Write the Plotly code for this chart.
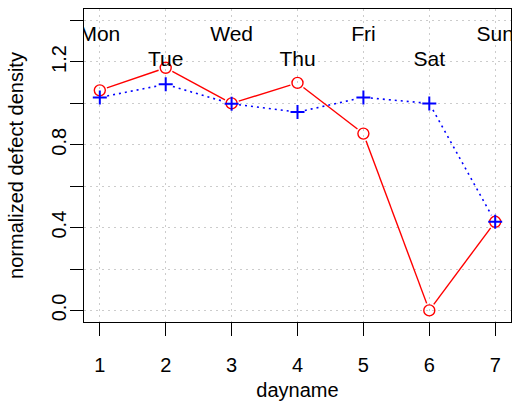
import numpy as np
import plotly.graph_objects as go

# Data
days = [1, 2, 3, 4, 5, 6, 7]
day_names = ["Mon", "Tue", "Wed", "Thu", "Fri", "Sat", "Sun"]
label_y = [1.326, 1.206, 1.326, 1.206, 1.326, 1.206, 1.326]
red_density = [1.063, 1.172, 1.0, 1.099, 0.854, 0.0, 0.428]
blue_density = [1.029, 1.092, 0.998, 0.958, 1.029, 1.0, 0.428]
y_ticks = [0.0, 0.2, 0.4, 0.6, 0.8, 1.0, 1.2, 1.4]
y_tick_text = ["0.0", "", "0.4", "", "0.8", "", "1.2", ""]

W, H = 512, 401
M = dict(l=84, r=1, t=9, b=79)
x_range = [0.76, 7.24]
y_range = [-0.056, 1.456]
FONT = "Liberation Sans, Arial, sans-serif"

px_x = (W - M["l"] - M["r"]) / (x_range[1] - x_range[0])
px_y = (H - M["t"] - M["b"]) / (y_range[1] - y_range[0])


def gapped(xs, ys, gap=7.5):
    """Segments between points, trimmed near each point (type='b' style)."""
    gx, gy = [], []
    for i in range(len(xs) - 1):
        dx = (xs[i + 1] - xs[i]) * px_x
        dy = (ys[i + 1] - ys[i]) * px_y
        L = np.hypot(dx, dy)
        if L <= 2 * gap:
            continue
        f = gap / L
        x0 = xs[i] + f * (xs[i + 1] - xs[i])
        y0 = ys[i] + f * (ys[i + 1] - ys[i])
        x1 = xs[i + 1] - f * (xs[i + 1] - xs[i])
        y1 = ys[i + 1] - f * (ys[i + 1] - ys[i])
        gx += [x0, x1, None]
        gy += [y0, y1, None]
    return gx, gy


fig = go.Figure()

rx, ry = gapped(days, red_density)
fig.add_trace(go.Scatter(x=rx, y=ry, mode="lines",
                         line=dict(color="#ff0000", width=1.4)))
fig.add_trace(go.Scatter(x=days, y=red_density, mode="markers",
                         marker=dict(symbol="circle-open", size=11, color="#ff0000",
                                     line=dict(width=1.4, color="#ff0000"))))

bx, by = gapped(days, blue_density)
fig.add_trace(go.Scatter(x=bx, y=by, mode="lines",
                         line=dict(color="#0000ff", width=1.6, dash="2px,4px")))
fig.add_trace(go.Scatter(x=days, y=blue_density, mode="markers",
                         marker=dict(symbol="cross-thin-open", size=10, color="#0000ff",
                                     line=dict(width=2, color="#0000ff"))))

fig.add_trace(go.Scatter(x=days, y=label_y, mode="text", text=day_names,
                         textposition="middle center", cliponaxis=True,
                         textfont=dict(family=FONT, size=21, color="black")))

axis_common = dict(showline=True, linecolor="black", linewidth=1.3, mirror=True,
                   ticks="outside", ticklen=13, tickwidth=1.3, tickcolor="black",
                   showgrid=True, gridcolor="#cccccc", griddash="2px,4px", gridwidth=1.2,
                   zeroline=False, tickfont=dict(family=FONT, size=20, color="black"))

fig.update_xaxes(range=x_range, tickvals=days, ticktext=[str(d) for d in days],
                 ticklabelstandoff=12,
                 title=dict(text="dayname", font=dict(family=FONT, size=20, color="black"),
                            standoff=10),
                 **axis_common)
fig.update_yaxes(range=y_range, tickvals=y_ticks, ticktext=y_tick_text, tickangle=-90,
                 ticklabelstandoff=-4,
                 title=dict(text="normalized defect density",
                            font=dict(family=FONT, size=20, color="black"), standoff=18),
                 **axis_common)

fig.update_layout(width=W, height=H, margin=M, showlegend=False,
                  plot_bgcolor="white", paper_bgcolor="white")

fig.write_html("out.html")
